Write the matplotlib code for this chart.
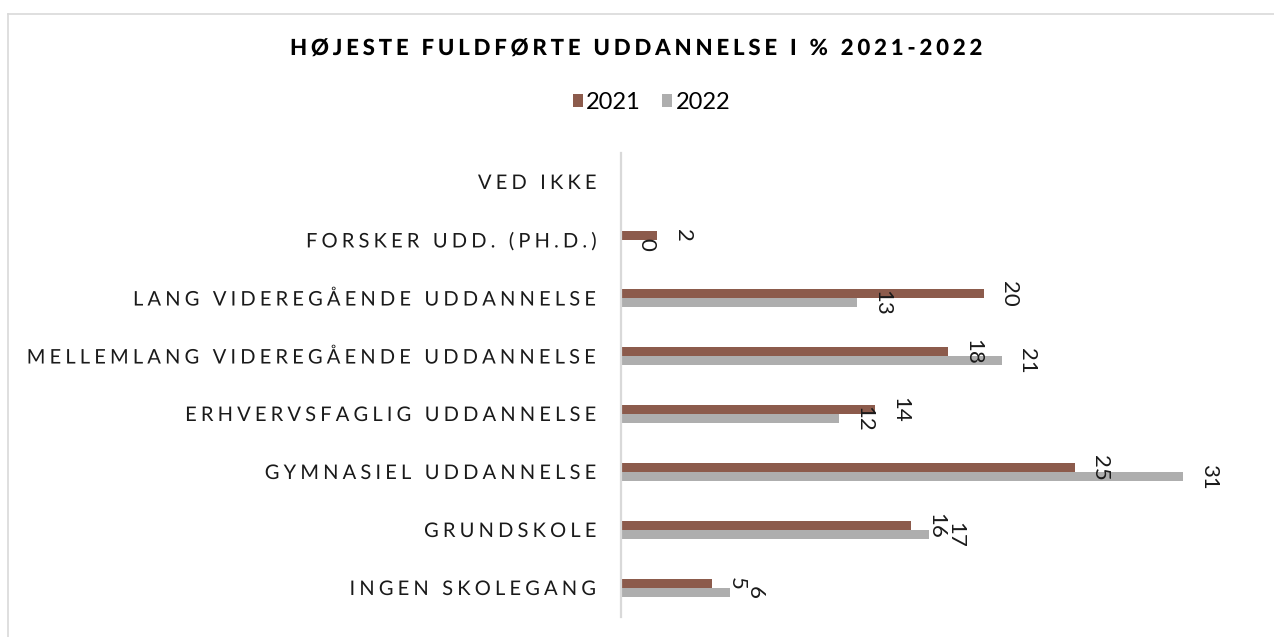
import numpy as np
import matplotlib
matplotlib.use("Agg")
import matplotlib.pyplot as plt
from matplotlib.patheffects import AbstractPathEffect
from matplotlib.path import Path
from matplotlib.font_manager import FontProperties
from matplotlib.textpath import text_to_path
from matplotlib.patches import Patch
from matplotlib.lines import Line2D

# ---------------- data ----------------
categories = ["INGEN SKOLEGANG", "GRUNDSKOLE", "GYMNASIEL UDDANNELSE",
              "ERHVERVSFAGLIG UDDANNELSE", "MELLEMLANG VIDEREGÅENDE UDDANNELSE",
              "LANG VIDEREGÅENDE UDDANNELSE", "FORSKER UDD. (PH.D.)", "VED IKKE"]
values_2021 = [5, 16, 25, 14, 18, 20, 2, np.nan]
values_2022 = [6, 17, 31, 12, 21, 13, 0, np.nan]
series_names = ["2021", "2022"]
title = "HØJESTE FULDFØRTE UDDANNELSE I % 2021-2022"

BROWN = "#8C5B4C"
GRAY = "#AEAEAE"
W, H = 1274, 637


class Tracking(AbstractPathEffect):
    """Draw text with extra letter spacing (tracking), in em units."""
    def __init__(self, s, prop, track_em, ha):
        super().__init__()
        self.s = s
        self.prop = prop
        self.track = track_em * 100.0
        self.ha = ha

    def _tracked(self):
        font = text_to_path._get_font(self.prop)
        glyph_info, glyph_map, _ = text_to_path.get_glyphs_with_font(font, self.s)
        verts, codes = [], []
        for i, (gid, x, y, sc) in enumerate(glyph_info):
            v1, c1 = glyph_map[gid]
            v1 = np.asarray(v1, dtype=float)
            if len(v1) == 0:
                continue
            verts.append(v1 * sc + [x + i * self.track, y])
            codes.append(np.asarray(c1))
        n = len(glyph_info)
        extra = (n - 1) * self.track
        shift = {"left": 0.0, "center": -extra / 2, "right": -extra}[self.ha]
        verts = np.concatenate(verts) + [shift, 0.0]
        codes = np.concatenate(codes)
        return Path(verts, codes)

    def draw_path(self, renderer, gc, tpath, affine, rgbFace=None):
        try:
            p = self._tracked()
        except Exception:
            p = tpath
        renderer.draw_path(gc, p, affine, rgbFace)


fig = plt.figure(figsize=(W / 100, H / 100), dpi=100)
fig.patch.set_facecolor("white")

# axes: x from 621 px to 1256 px, y from 153 px to 617 px
ax = fig.add_axes([621 / W, 20 / H, 635 / W, 464 / H])

y = np.arange(len(categories))
h = 0.155
ax.barh(y + h / 2, values_2021, height=h, color=BROWN, label=series_names[0])
ax.barh(y - h / 2, values_2022, height=h, color=GRAY, label=series_names[1])
ax.set_xlim(0, 35)
ax.set_ylim(-0.5, len(categories) - 0.5)

for s in ["top", "right", "bottom"]:
    ax.spines[s].set_visible(False)
ax.spines["left"].set_color("#D9D9D9")
ax.spines["left"].set_linewidth(1.6)
ax.set_xticks([])

label_fp = FontProperties(family="Lato", weight="normal", size=14.5)
ax.set_yticks(y, labels=categories)
ax.tick_params(axis="y", length=0, pad=17.5)
for lbl in ax.get_yticklabels():
    lbl.set_fontproperties(label_fp)
    lbl.set_color("#1a1a1a")
    lbl.set_path_effects([Tracking(lbl.get_text(), label_fp, 0.205, "right")])

val_fp = FontProperties(family="Lato", weight="normal", size=16)
for vals, off in ((values_2021, h / 2), (values_2022, -h / 2)):
    for yi, v in zip(y, vals):
        if np.isfinite(v):
            ax.annotate(f"{v:g}", xy=(v, yi + off), xytext=(11, 0),
                        textcoords="offset points", rotation=-90,
                        ha="left", va="center", fontproperties=val_fp,
                        color="#1a1a1a")

# title
title_fp = FontProperties(family="Lato", weight="black", size=16)
t = fig.text(0.5, 1 - 55 / H, title, ha="center", va="baseline",
             fontproperties=title_fp, color="black")
t.set_path_effects([Tracking(title, title_fp, 0.17, "center")])

# legend
leg_fp = FontProperties(family="Lato", weight="normal", size=17)
handles = [Patch(facecolor=BROWN, edgecolor="none"),
           Patch(facecolor=GRAY, edgecolor="none")]
fig.legend(handles, series_names, ncol=2, loc="center",
           bbox_to_anchor=(651.5 / W, 1 - 102.5 / H), frameon=False, prop=leg_fp,
           handlelength=0.42, handleheight=0.42, handletextpad=0.15,
           columnspacing=0.9, borderpad=0, borderaxespad=0)

# frame lines (top and left visible)
fig.add_artist(Line2D([7.5 / W, 1.01], [1 - 14 / H, 1 - 14 / H],
                      transform=fig.transFigure, color="#D9D9D9", lw=1.2))
fig.add_artist(Line2D([7.5 / W, 7.5 / W], [-0.01, 1 - 14 / H],
                      transform=fig.transFigure, color="#D9D9D9", lw=1.2))

fig.savefig("out.png", dpi=100, facecolor="white")
